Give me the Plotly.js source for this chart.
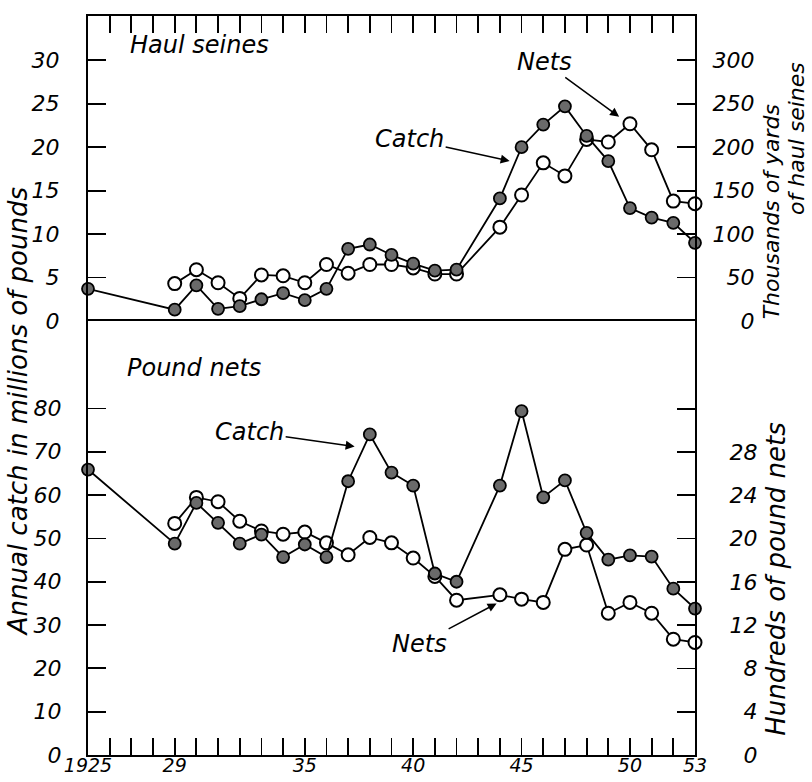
<!DOCTYPE html>
<html>
<head>
<meta charset="utf-8">
<script src="https://cdn.plot.ly/plotly-3.0.1.min.js"></script>
<style>html,body{margin:0;padding:0;background:#fff;}#chart{width:812px;height:782px;}</style>
</head>
<body>
<div id="chart"></div>
<script>
// ---------- DATA ----------
// Haul seines (top panel)
const seineCatchYears = [1925, 1929, 1930, 1931, 1932, 1933, 1934, 1935, 1936, 1937, 1938, 1939, 1940, 1941, 1942, 1944, 1945, 1946, 1947, 1948, 1949, 1950, 1951, 1952, 1953];
const seineCatch = [3.7, 1.3, 4.1, 1.4, 1.7, 2.5, 3.2, 2.4, 3.7, 8.3, 8.8, 7.6, 6.6, 5.8, 5.9, 14.1, 20.0, 22.6, 24.7, 21.3, 18.4, 13.0, 11.9, 11.3, 9.0]; // millions of pounds
const seineNetYears = [1929, 1930, 1931, 1932, 1933, 1934, 1935, 1936, 1937, 1938, 1939, 1940, 1941, 1942, 1944, 1945, 1946, 1947, 1948, 1949, 1950, 1951, 1952, 1953];
const seineNets = [43, 59, 44, 26, 53, 52, 44, 65, 55, 65, 65, 61, 54, 54, 108, 145, 182, 167, 209, 206, 227, 197, 138, 135]; // thousands of yards

// Pound nets (bottom panel)
const poundCatchYears = [1925, 1929, 1930, 1931, 1932, 1933, 1934, 1935, 1936, 1937, 1938, 1939, 1940, 1941, 1942, 1944, 1945, 1946, 1947, 1948, 1949, 1950, 1951, 1952, 1953];
const poundCatch = [65.9, 48.8, 58.2, 53.6, 48.8, 50.9, 45.7, 48.6, 45.7, 63.2, 74.0, 65.2, 62.2, 41.9, 40.0, 62.2, 79.4, 59.5, 63.4, 51.3, 45.1, 46.1, 45.8, 38.4, 33.8]; // millions of pounds
const poundNetYears = [1929, 1930, 1931, 1932, 1933, 1934, 1935, 1936, 1937, 1938, 1939, 1940, 1941, 1942, 1944, 1945, 1946, 1947, 1948, 1949, 1950, 1951, 1952, 1953];
const poundNets = [21.4, 23.8, 23.4, 21.6, 20.7, 20.4, 20.6, 19.6, 18.5, 20.1, 19.6, 18.2, 16.5, 14.3, 14.8, 14.4, 14.1, 19.0, 19.4, 13.1, 14.1, 13.1, 10.7, 10.4]; // hundreds of pound nets

// Tick labels
const xLabelYears = [1925, 1929, 1935, 1940, 1945, 1950, 1953];
const xLabelText = ['1925', '29', '35', '40', '45', '50', '53'];
const seineCatchTicks = [0, 5, 10, 15, 20, 25, 30];
const seineNetTicks = [0, 50, 100, 150, 200, 250, 300];
const poundCatchTicks = [0, 10, 20, 30, 40, 50, 60, 70, 80];
const poundNetTicks = [0, 4, 8, 12, 16, 20, 24, 28, 32];
const poundNetLabels = ['0', '4', '8', '12', '16', '20', '24', '28', ''];

// ---------- BUILD ----------
const allYears = [];
for (let y = 1925; y <= 1953; y++) allYears.push(y);
const allYearText = allYears.map(y => {
  const i = xLabelYears.indexOf(y);
  return i >= 0 ? xLabelText[i] : '';
});
const FS = '\u2007';
const padL = (s, n) => { s = String(s); while (s.length < n) s = FS + s; return s; };

const FONT = 'DejaVu Sans, Liberation Sans, sans-serif';
const tickFont = {family: FONT, size: 22, color: '#000', style: 'italic'};
const xTickFont = {family: FONT, size: 19, color: '#000', style: 'italic'};
const labFont = {family: FONT, size: 24, color: '#000', style: 'italic'};
const titleFont = {family: FONT, size: 26, color: '#000', style: 'italic'};
const titleFontR = {family: FONT, size: 22, color: '#000', style: 'italic'};

const openMarker = {symbol: 'circle', size: 13, color: '#fff', line: {color: '#000', width: 2}};
const fullMarker = {symbol: 'circle', size: 12, color: '#6a6a6a', line: {color: '#000', width: 1.8}};
const lineStyle = {color: '#000', width: 1.8};

const traces = [
  {x: seineNetYears, y: seineNets, xaxis: 'x2', yaxis: 'y', mode: 'lines+markers', line: lineStyle, marker: openMarker, cliponaxis: false, showlegend: false},
  {x: seineCatchYears, y: seineCatch, xaxis: 'x2', yaxis: 'y2', mode: 'lines+markers', line: lineStyle, marker: fullMarker, cliponaxis: false, showlegend: false},
  {x: poundNetYears, y: poundNets, xaxis: 'x', yaxis: 'y3', mode: 'lines+markers', line: lineStyle, marker: openMarker, cliponaxis: false, showlegend: false},
  {x: poundCatchYears, y: poundCatch, xaxis: 'x', yaxis: 'y4', mode: 'lines+markers', line: lineStyle, marker: fullMarker, cliponaxis: false, showlegend: false}
];

const split = 0.5873;
const common = {showgrid: false, zeroline: false, showline: true, linecolor: '#000', linewidth: 2, ticks: 'inside', tickcolor: '#000', tickwidth: 1.8, tickfont: tickFont, fixedrange: true};

const layout = {
  width: 812, height: 782,
  margin: {l: 88, r: 117, t: 16, b: 27},
  paper_bgcolor: '#fff', plot_bgcolor: '#fff',
  showlegend: false,
  xaxis: Object.assign({}, common, {domain: [0, 1], anchor: 'y3', range: [1925, 1953], tickmode: 'array', tickvals: allYears, ticktext: allYearText, ticklen: 17, mirror: true, tickfont: xTickFont, ticklabelstandoff: -8}),
  xaxis2: Object.assign({}, common, {domain: [0, 1], anchor: 'y', side: 'top', range: [1925, 1953], tickmode: 'array', tickvals: allYears, ticklen: 17, showticklabels: false, mirror: false}),
  yaxis: Object.assign({}, common, {domain: [split, 1], anchor: 'x2', side: 'right', range: [0, 351], tickmode: 'array', tickvals: seineNetTicks, ticktext: seineNetTicks.map(v => padL(v, 3)), ticklen: 18, ticklabelstandoff: 11}),
  yaxis2: Object.assign({}, common, {overlaying: 'y', anchor: 'x2', side: 'left', range: [0, 35.1], tickmode: 'array', tickvals: seineCatchTicks, ticktext: seineCatchTicks.map(String), ticklen: 18, ticklabelstandoff: 22}),
  yaxis3: Object.assign({}, common, {domain: [0, split], anchor: 'x', side: 'right', range: [0, 40.1], tickmode: 'array', tickvals: poundNetTicks, ticktext: poundNetLabels.map(s => padL(s, 2)), ticklen: 18, ticklabelstandoff: 28}),
  yaxis4: Object.assign({}, common, {overlaying: 'y3', anchor: 'x', side: 'left', range: [0, 100.2], tickmode: 'array', tickvals: poundCatchTicks, ticktext: poundCatchTicks.map(String), ticklen: 18, ticklabelstandoff: 20}),
  annotations: [
    {text: 'Haul seines', xref: 'paper', yref: 'paper', x: 0.066, y: 0.961, xanchor: 'left', yanchor: 'middle', showarrow: false, font: labFont},
    {text: 'Pound nets', xref: 'paper', yref: 'paper', x: 0.061, y: 0.524, xanchor: 'left', yanchor: 'middle', showarrow: false, font: labFont},
    {text: 'Catch', xref: 'x2', yref: 'y2', x: 1944.45, y: 18.4, ax: -100, ay: -22, showarrow: true, arrowhead: 2, arrowsize: 1.2, arrowwidth: 1.5, arrowcolor: '#000', standoff: 0, font: labFont},
    {text: 'Nets', xref: 'x2', yref: 'y2', x: 1949.5, y: 23.5, ax: -75, ay: -55, showarrow: true, arrowhead: 2, arrowsize: 1.2, arrowwidth: 1.5, arrowcolor: '#000', standoff: 0, font: labFont},
    {text: 'Catch', xref: 'x', yref: 'y4', x: 1937.3, y: 71.2, ax: -105, ay: -15, showarrow: true, arrowhead: 2, arrowsize: 1.2, arrowwidth: 1.5, arrowcolor: '#000', standoff: 0, font: labFont},
    {text: 'Nets', xref: 'x', yref: 'y4', x: 1943.85, y: 35, ax: -77, ay: 41, showarrow: true, arrowhead: 2, arrowsize: 1.2, arrowwidth: 1.5, arrowcolor: '#000', standoff: 0, font: labFont},
    {text: 'Annual catch in millions of pounds', xref: 'paper', yref: 'paper', x: -0.115, y: 0.464, xanchor: 'center', yanchor: 'middle', textangle: -90, showarrow: false, font: titleFont},
    {text: 'Thousands of yards', xref: 'paper', yref: 'paper', x: 1.126, y: 0.735, xanchor: 'center', yanchor: 'middle', textangle: -90, showarrow: false, font: titleFontR},
    {text: 'of haul seines', xref: 'paper', yref: 'paper', x: 1.168, y: 0.835, xanchor: 'center', yanchor: 'middle', textangle: -90, showarrow: false, font: titleFontR},
    {text: 'Hundreds of pound nets', xref: 'paper', yref: 'paper', x: 1.133, y: 0.238, xanchor: 'center', yanchor: 'middle', textangle: -90, showarrow: false, font: titleFont}
  ]
};

Plotly.newPlot('chart', traces, layout, {staticPlot: true, displayModeBar: false});
</script>
</body>
</html>
